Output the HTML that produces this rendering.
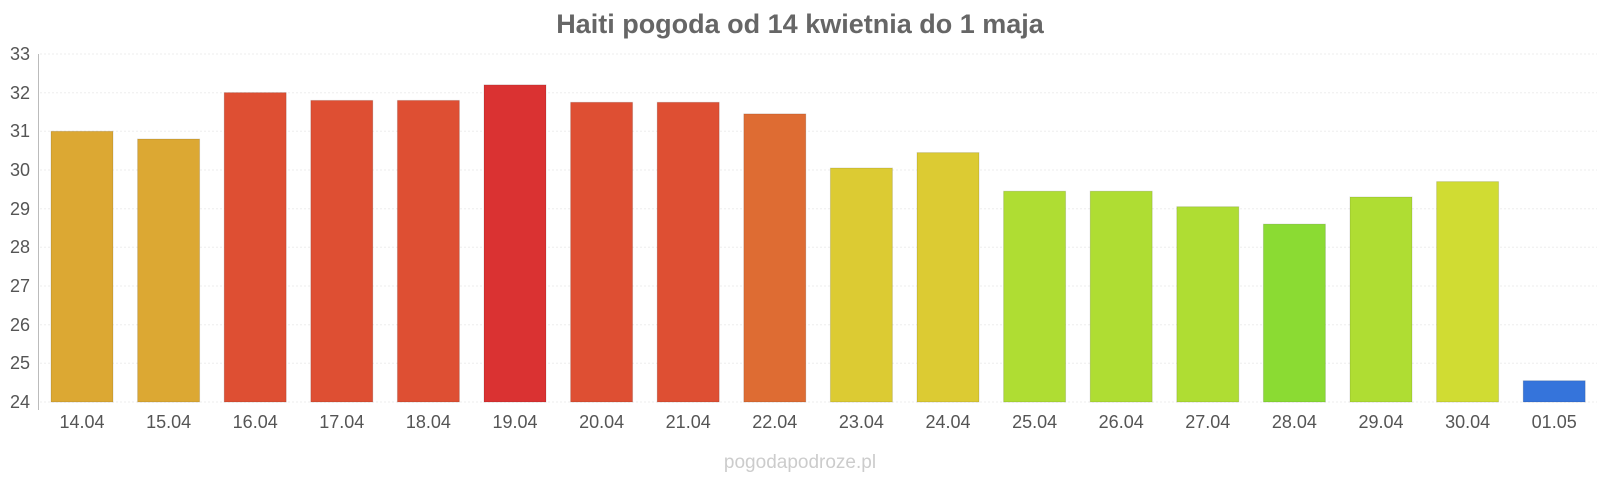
<!DOCTYPE html>
<html><head><meta charset="utf-8"><style>
body{margin:0;background:#fff;}
svg text{font-family:"Liberation Sans",sans-serif;}
</style></head><body>
<svg width="1600" height="480" xmlns="http://www.w3.org/2000/svg">
<text x="800" y="33" text-anchor="middle" font-size="27" font-weight="bold" fill="#666">Haiti pogoda od 14 kwietnia do 1 maja</text>
<g stroke="#eee" stroke-width="1" stroke-dasharray="2,2">
<line x1="40" x2="1597" y1="54" y2="54"/><line x1="40" x2="1597" y1="92.7" y2="92.7"/><line x1="40" x2="1597" y1="131.3" y2="131.3"/><line x1="40" x2="1597" y1="170" y2="170"/><line x1="40" x2="1597" y1="208.7" y2="208.7"/><line x1="40" x2="1597" y1="247.3" y2="247.3"/><line x1="40" x2="1597" y1="286" y2="286"/><line x1="40" x2="1597" y1="324.7" y2="324.7"/><line x1="40" x2="1597" y1="363.3" y2="363.3"/><line x1="40" x2="1597" y1="402" y2="402"/>
</g>
<line x1="38.5" x2="38.5" y1="54" y2="410" stroke="#bbb"/>
<g font-size="18" fill="#555" text-anchor="end">
<text x="30" y="60">33</text><text x="30" y="99">32</text><text x="30" y="137">31</text><text x="30" y="176">30</text><text x="30" y="215">29</text><text x="30" y="253">28</text><text x="30" y="292">27</text><text x="30" y="331">26</text><text x="30" y="369">25</text><text x="30" y="408">24</text>
</g>
<g stroke="rgba(0,0,0,0.12)" stroke-width="1">
<rect x="51" y="131.3" width="62" height="270.7" fill="#dca833"/>
<rect x="137.6" y="139" width="62" height="263" fill="#dca833"/>
<rect x="224.2" y="92.6" width="62" height="309.4" fill="#de4f33"/>
<rect x="310.8" y="100.4" width="62" height="301.6" fill="#de4f33"/>
<rect x="397.4" y="100.4" width="62" height="301.6" fill="#de4f33"/>
<rect x="484" y="84.9" width="62" height="317.1" fill="#da3232"/>
<rect x="570.6" y="102.3" width="62" height="299.7" fill="#de4f33"/>
<rect x="657.2" y="102.3" width="62" height="299.7" fill="#de4f33"/>
<rect x="743.8" y="113.9" width="62" height="288.1" fill="#de6c33"/>
<rect x="830.4" y="168" width="62" height="234" fill="#dccb33"/>
<rect x="917" y="152.6" width="62" height="249.4" fill="#dccb33"/>
<rect x="1003.6" y="191.2" width="62" height="210.8" fill="#afdd33"/>
<rect x="1090.2" y="191.2" width="62" height="210.8" fill="#afdd33"/>
<rect x="1176.8" y="206.7" width="62" height="195.3" fill="#afdd33"/>
<rect x="1263.4" y="224.1" width="62" height="177.9" fill="#8bdb33"/>
<rect x="1350" y="197" width="62" height="205" fill="#afdd33"/>
<rect x="1436.6" y="181.6" width="62" height="220.4" fill="#d0dc33"/>
<rect x="1523.2" y="380.7" width="62" height="21.3" fill="#3574db"/>
</g>
<g font-size="18" fill="#555" text-anchor="middle">
<text x="82" y="428">14.04</text><text x="168.6" y="428">15.04</text><text x="255.2" y="428">16.04</text><text x="341.8" y="428">17.04</text><text x="428.4" y="428">18.04</text><text x="515" y="428">19.04</text><text x="601.6" y="428">20.04</text><text x="688.2" y="428">21.04</text><text x="774.8" y="428">22.04</text><text x="861.4" y="428">23.04</text><text x="948" y="428">24.04</text><text x="1034.6" y="428">25.04</text><text x="1121.2" y="428">26.04</text><text x="1207.8" y="428">27.04</text><text x="1294.4" y="428">28.04</text><text x="1381" y="428">29.04</text><text x="1467.6" y="428">30.04</text><text x="1554.2" y="428">01.05</text>
</g>
<text x="800" y="468" text-anchor="middle" font-size="19" fill="#ccc">pogodapodroze.pl</text>
</svg>
</body></html>
